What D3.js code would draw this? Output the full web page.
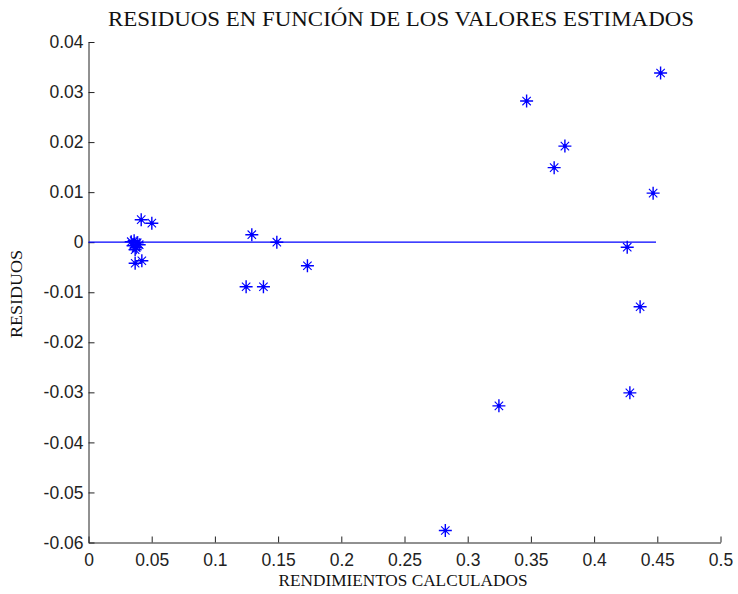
<!DOCTYPE html>
<html>
<head>
<meta charset="utf-8">
<script src="https://cdn.jsdelivr.net/npm/d3@7"></script>
<style>
  html, body { margin: 0; padding: 0; background: #fff; }
  svg { display: block; }
</style>
</head>
<body>
<svg id="chart" width="738" height="594"></svg>
<script>
// ---- data ----
const titleText = "RESIDUOS EN FUNCIÓN DE LOS VALORES ESTIMADOS";
const xLabelText = "RENDIMIENTOS CALCULADOS";
const yLabelText = "RESIDUOS";

const fitted = [
  0.4526, 0.3466, 0.3769, 0.3684, 0.4467, 0.4262, 0.4364, 0.4283, 0.3247, 0.2823,
  0.1292, 0.1490, 0.1732, 0.1247, 0.1384,
  0.0417, 0.0501, 0.0369, 0.0422,
  0.0338, 0.0361, 0.0385, 0.0353, 0.0377, 0.0401, 0.0369
];
const residuals = [
  0.0338, 0.0282, 0.0192, 0.0149, 0.0098, -0.0010, -0.0129, -0.0301, -0.0327, -0.0576,
  0.0015, 0.0000, -0.0047, -0.0089, -0.0089,
  0.0045, 0.0038, -0.0042, -0.0037,
  0.0001, 0.0003, -0.0001, -0.0007, -0.0011, -0.0005, -0.0015
];
const zeroLineX = [0, 0.449];
const xTicks = [0, 0.05, 0.1, 0.15, 0.2, 0.25, 0.3, 0.35, 0.4, 0.45, 0.5];
const yTicks = [0.04, 0.03, 0.02, 0.01, 0, -0.01, -0.02, -0.03, -0.04, -0.05, -0.06];

// ---- layout ----
const svg = d3.select("#chart");
const mLeft = 88.5, mRight = 720.5, mTop = 42, mBottom = 542.5;
const x = d3.scaleLinear().domain([0, 0.5]).range([mLeft, mRight]);
const y = d3.scaleLinear().domain([-0.06, 0.04]).range([mBottom, mTop]);
const axisColor = "#222";
const blue = "#0000ff";

const fmt = d => (d === 0 ? "0" : String(+d.toFixed(2)));

// x axis (ticks inward)
const gx = svg.append("g").attr("transform", `translate(0,${mBottom})`)
  .call(d3.axisBottom(x).tickValues(xTicks).tickFormat(fmt).tickSizeInner(-6).tickSizeOuter(0).tickPadding(11));
gx.select(".domain").attr("stroke", axisColor);
gx.selectAll(".tick line").attr("stroke", axisColor);
gx.selectAll("text").attr("fill", axisColor)
  .style("font-family", "'Liberation Sans', Arial, sans-serif").style("font-size", "17.5px");

// y axis (ticks inward)
const gy = svg.append("g").attr("transform", `translate(${mLeft},0)`)
  .call(d3.axisLeft(y).tickValues(yTicks).tickFormat(fmt).tickSizeInner(-6).tickSizeOuter(0).tickPadding(5));
gy.select(".domain").attr("stroke", axisColor);
gy.selectAll(".tick line").attr("stroke", axisColor);
gy.selectAll("text").attr("fill", axisColor)
  .style("font-family", "'Liberation Sans', Arial, sans-serif").style("font-size", "17.5px");

// zero line
svg.append("line")
  .attr("x1", x(zeroLineX[0])).attr("x2", x(zeroLineX[1]))
  .attr("y1", y(0)).attr("y2", y(0))
  .attr("stroke", blue).attr("stroke-width", 1.3);

// asterisk markers
const pts = fitted.map((f, i) => ({ f, r: residuals[i] }));
const mk = svg.append("g").selectAll("g").data(pts).join("g")
  .attr("transform", d => `translate(${x(d.f)},${y(d.r)})`)
  .attr("stroke", blue).attr("stroke-width", 1.4).attr("fill", "none");
const a = 6.5, b = 4.2;
mk.append("path").attr("d", `M${-a},0H${a}M0,${-a}V${a}`);
mk.append("path").attr("d", `M${-b},${-b}L${b},${b}M${-b},${b}L${b},${-b}`).attr("stroke-width", 1.1);
mk.append("circle").attr("r", 2).attr("fill", blue).attr("stroke", "none");

// title & labels
svg.append("text").attr("x", 401).attr("y", 26).attr("text-anchor", "middle")
  .attr("textLength", 586).attr("lengthAdjust", "spacingAndGlyphs")
  .style("font-family", "'Liberation Serif', 'Times New Roman', serif").style("font-size", "22px")
  .attr("fill", "#111").text(titleText);

svg.append("text").attr("x", 403).attr("y", 586).attr("text-anchor", "middle")
  .attr("textLength", 249).attr("lengthAdjust", "spacingAndGlyphs")
  .style("font-family", "'Liberation Serif', 'Times New Roman', serif").style("font-size", "16px")
  .attr("fill", "#111").text(xLabelText);

svg.append("text").attr("transform", "translate(22,294) rotate(-90)").attr("text-anchor", "middle")
  .attr("textLength", 88).attr("lengthAdjust", "spacingAndGlyphs")
  .style("font-family", "'Liberation Serif', 'Times New Roman', serif").style("font-size", "16px")
  .attr("fill", "#111").text(yLabelText);
</script>
</body>
</html>
